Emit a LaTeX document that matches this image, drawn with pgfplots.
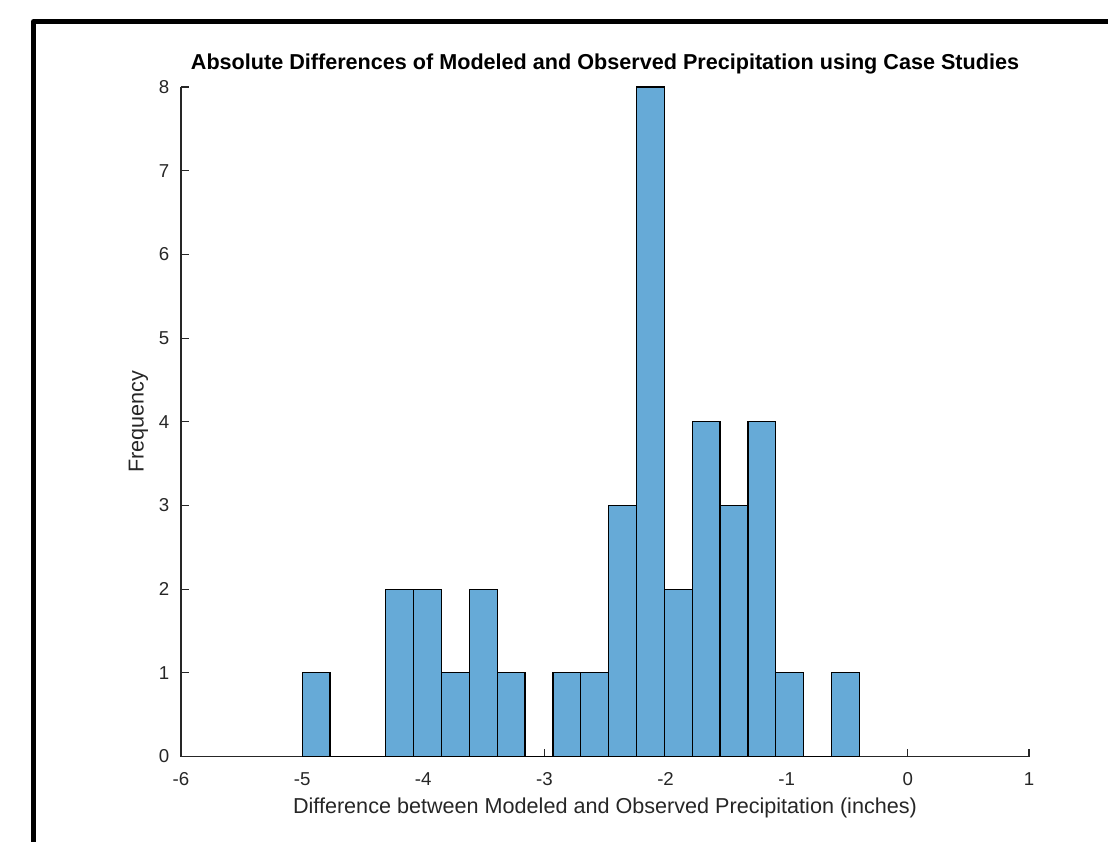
\documentclass[border=0pt]{standalone}
\usepackage{pgfplots}
\pgfplotsset{compat=1.18}
\usepackage{fontspec}
\setmainfont{Liberation Sans}
\definecolor{barblue}{RGB}{102,170,215}
\definecolor{axgray}{RGB}{38,38,38}
\begin{document}
\begin{tikzpicture}
\begin{axis}[
  at={(0,0)}, anchor=south west,
  scale only axis,
  width=636pt, height=502.1pt,
  xmin=-6, xmax=1, ymin=0, ymax=8,
  axis x line*=bottom, axis y line*=left,
  axis line style={-, axgray, line width=0.9pt},
  xtick={-6,-5,-4,-3,-2,-1,0,1},
  xticklabels={-6,-5,-4,-3,-2,-1,0,1},
  ytick={0,1,2,3,4,5,6,7,8},
  yticklabels={0,1,2,3,4,5,6,7,8},
  tick align=inside,
  major tick length=6pt,
  tick style={axgray, line width=0.9pt},
  xticklabel style={anchor=base, inner sep=0pt, yshift=-22pt, text=axgray, font=\fontsize{14}{16}\selectfont},
  yticklabel style={anchor=east, inner sep=0pt, xshift=-8.6pt, text=axgray, font=\fontsize{14}{16}\selectfont},
  xlabel={Difference between Modeled and Observed Precipitation (inches)},
  ylabel={Frequency},
  xlabel style={at={(axis description cs:0.5,0)}, anchor=base, yshift=-42.4pt, inner sep=0pt, text=axgray, font=\fontsize{16.2}{19}\selectfont},
  ylabel style={at={(axis description cs:-0.0503,0.5)}, rotate=0, anchor=center, inner sep=0pt, text=axgray, font=\fontsize{16.2}{19}\selectfont},
  title={Absolute Differences of Modeled and Observed Precipitation using Case Studies},
  title style={at={(axis description cs:0.5,1)}, anchor=base, yshift=7pt, inner sep=0pt, font=\bfseries\fontsize{16.2}{19}\selectfont},
  clip=false,
]
\addplot[ybar interval, fill=barblue, draw=black, line width=0.9pt] coordinates {
(-5.00,1) (-4.77,0) (-4.54,0) (-4.31,2) (-4.08,2) (-3.85,1) (-3.62,2) (-3.39,1) (-3.16,0)
(-2.93,1) (-2.70,1) (-2.47,3) (-2.24,8) (-2.01,2) (-1.78,4) (-1.55,3) (-1.32,4) (-1.09,1)
(-0.86,0) (-0.63,1) (-0.40,1)
};
\end{axis}
\draw[line width=3.75pt, line join=round] (-110.6pt,-80pt) -- (-110.6pt,551.25pt) -- (720pt,551.25pt);
\pgfresetboundingbox
\useasboundingbox (-135.75pt,-64.1pt) rectangle (695.25pt,567.4pt);
\end{tikzpicture}
\end{document}
